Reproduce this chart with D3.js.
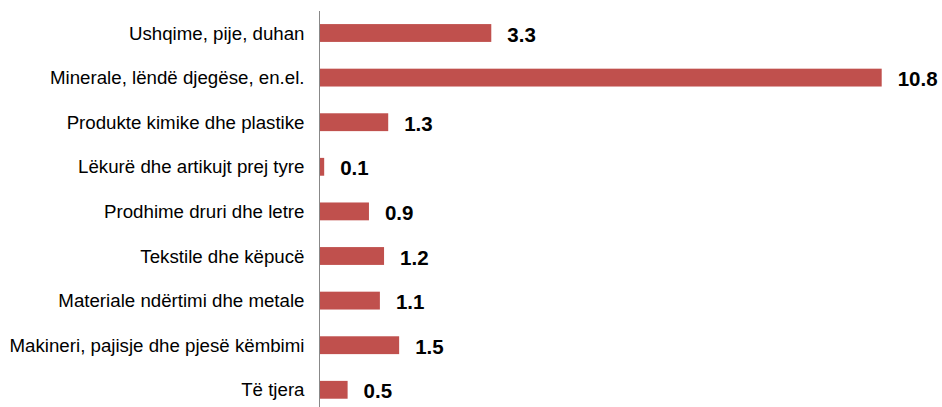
<!DOCTYPE html>
<html>
<head>
<meta charset="utf-8">
<script src="https://cdn.jsdelivr.net/npm/d3@7"></script>
<style>
  html, body { margin: 0; padding: 0; background: #fff; }
  svg { display: block; }
</style>
</head>
<body>
<svg id="chart" width="942" height="407"></svg>
<script>
const categories = [
  "Ushqime, pije, duhan",
  "Minerale, lëndë djegëse, en.el.",
  "Produkte kimike dhe plastike",
  "Lëkurë dhe artikujt prej tyre",
  "Prodhime druri dhe letre",
  "Tekstile dhe këpucë",
  "Materiale ndërtimi dhe metale",
  "Makineri, pajisje dhe pjesë këmbimi",
  "Të tjera"
];
// bar lengths (labels are rounded)
const values = [3.3, 10.8, 1.32, 0.09, 0.95, 1.24, 1.16, 1.53, 0.54];
const valueLabels = ["3.3", "10.8", "1.3", "0.1", "0.9", "1.2", "1.1", "1.5", "0.5"];

const svg = d3.select("#chart");
const x0 = 319.5;
const x = d3.scaleLinear().domain([0, 10.8]).range([x0, 881.7]);
const y = d3.scaleBand().domain(categories).range([10.7, 412.1])
  .paddingInner(0.6).paddingOuter(0.3);

svg.append("g").selectAll("rect").data(values).join("rect")
  .attr("x", x(0))
  .attr("y", (d, i) => y(categories[i]))
  .attr("width", d => x(d) - x(0))
  .attr("height", y.bandwidth())
  .attr("fill", "#C0504D");

// axis line
svg.append("line")
  .attr("x1", x0).attr("x2", x0)
  .attr("y1", 11).attr("y2", 407)
  .attr("stroke", "#888").attr("stroke-width", 1);

svg.append("g").selectAll("text").data(categories).join("text")
  .attr("x", 304.5)
  .attr("y", d => y(d) + y.bandwidth() / 2)
  .attr("dy", "0.35em")
  .attr("text-anchor", "end")
  .attr("font-family", "Liberation Sans, Arial, sans-serif")
  .attr("font-size", "18.7px")
  .attr("fill", "#000")
  .text(d => d);

svg.append("g").selectAll("text").data(values).join("text")
  .attr("x", d => x(d) + 16)
  .attr("y", (d, i) => y(categories[i]) + y.bandwidth() / 2)
  .attr("dy", "0.42em")
  .attr("font-family", "Liberation Sans, Arial, sans-serif")
  .attr("font-weight", "bold")
  .attr("font-size", "20.5px")
  .attr("fill", "#000")
  .text((d, i) => valueLabels[i]);
</script>
</body>
</html>
